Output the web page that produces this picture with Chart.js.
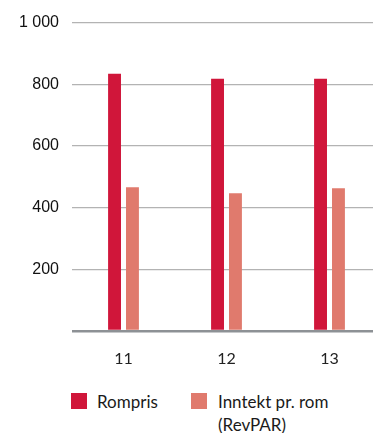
<!DOCTYPE html>
<html>
<head>
<meta charset="utf-8">
<script src="https://cdn.jsdelivr.net/npm/chart.js@4/dist/chart.umd.min.js"></script>
<style>
    body { margin: 0; width: 373px; height: 433px; overflow: hidden; background: #fff; position: relative; }
    #wrap { position: absolute; left: 0; top: 0; width: 381px; height: 370px; }
    .legenda { position: absolute; top: 390px; font-family: Lato, sans-serif; font-size: 17px; color: #1a1a1a; line-height: 23px; }
    .legenda span.cor { position: absolute; width: 16px; height: 16px; top: 3px; }
</style>
</head>
<body>
<div id="wrap"><canvas id="grafico"></canvas></div>
<div id="legenda"></div>

<script>
// År og verdier (NOK)
const aar = ['11', '12', '13'];
const rompris = [834, 818, 818];
const revpar = [466, 447, 463];
const yTicks = [0, 200, 400, 600, 800, 1000];

const farger = ['#d0163a', '#e07a6d'];
const navn = [['Rompris'], ['Inntekt pr. rom', '(RevPAR)']];

const ctx = document.getElementById('grafico').getContext('2d');

new Chart(ctx, {
    type: 'bar',
    data: {
        labels: aar,
        datasets: [{
            label: 'Rompris',
            data: rompris,
            backgroundColor: farger[0]
        }, {
            label: 'Inntekt pr. rom (RevPAR)',
            data: revpar,
            backgroundColor: farger[1]
        }]
    },
    options: {
        responsive: true,
        maintainAspectRatio: false,
        animation: false,
        devicePixelRatio: 1,
        categoryPercentage: 0.348,
        barPercentage: 0.72,
        layout: { padding: { top: 21, right: 0, left: 0, bottom: 0 } },
        plugins: {
            legend: { display: false },
            tooltip: { enabled: false }
        },
        scales: {
            x: {
                grid: { display: false, drawTicks: false },
                border: { display: false },
                ticks: {
                    padding: 18,
                    color: '#222',
                    font: { family: 'Lato', size: 16 }
                },
                afterFit: (scale) => { scale.height = 39; }
            },
            y: {
                min: 0,
                max: 1000,
                afterBuildTicks: (scale) => { scale.ticks = yTicks.map(v => ({ value: v })); },
                grid: {
                    drawTicks: false,
                    color: (c) => c.tick && c.tick.value === 0 ? '#8d9195' : '#b3b3b3',
                    lineWidth: (c) => c.tick && c.tick.value === 0 ? 2.5 : 1.2
                },
                border: { display: false },
                ticks: {
                    padding: 13,
                    color: '#111',
                    font: { family: 'Liberation Sans', size: 16 },
                    callback: (v) => v === 0 ? '' : v.toLocaleString('nb-NO').replace(/\s/g, ' ')
                },
                afterFit: (scale) => { scale.width = 72; }
            }
        }
    }
});

// legende under grafen
const posisjoner = [71, 191];
const legenda = document.getElementById('legenda');
navn.forEach((linjer, i) => {
    const div = document.createElement('div');
    div.className = 'legenda';
    div.style.left = posisjoner[i] + 'px';
    div.style.paddingLeft = (i == 0 ? 26 : 27) + 'px';
    div.innerHTML = `<span class="cor" style="left:0;background:${farger[i]}"></span>` + linjer.join('<br>');
    legenda.appendChild(div);
});
</script>
</body>
</html>
